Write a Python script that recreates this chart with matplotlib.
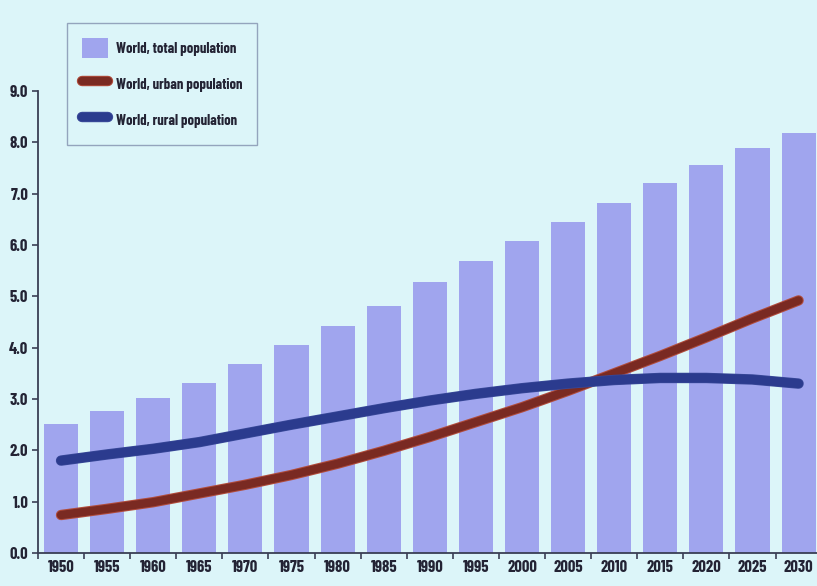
import matplotlib
matplotlib.use('Agg')
import matplotlib.pyplot as plt
import matplotlib.patheffects as pe
from matplotlib import font_manager
from matplotlib.lines import Line2D
from matplotlib.patches import Patch
import numpy as np

years = ['1950', '1955', '1960', '1965', '1970', '1975', '1980', '1985', '1990',
         '1995', '2000', '2005', '2010', '2015', '2020', '2025', '2030']
total = [2.52, 2.76, 3.01, 3.32, 3.69, 4.06, 4.43, 4.82, 5.27, 5.68, 6.08,
         6.45, 6.82, 7.20, 7.55, 7.88, 8.19]
urban = [0.74, 0.86, 0.99, 1.16, 1.33, 1.52, 1.74, 1.99, 2.26, 2.55, 2.84,
         3.16, 3.50, 3.84, 4.20, 4.57, 4.92]
rural = [1.80, 1.92, 2.03, 2.16, 2.33, 2.50, 2.66, 2.82, 2.97, 3.10, 3.21,
         3.30, 3.37, 3.41, 3.41, 3.38, 3.30]
yticks = [0.0, 1.0, 2.0, 3.0, 4.0, 5.0, 6.0, 7.0, 8.0, 9.0]
labels = ['World, total population', 'World, urban population',
          'World, rural population']

# narrow bold font if one is installed, else DejaVu
names = set(f.name for f in font_manager.fontManager.ttflist)
fam = 'DejaVu Sans'
for n in ['Barlow Condensed', 'Asap Condensed', 'Archivo Narrow']:
    if n in names:
        fam = n
        break
plt.rcParams['font.family'] = [fam, 'DejaVu Sans']
plt.rcParams['font.weight'] = 'bold'
fs = 12 if fam != 'DejaVu Sans' else 9.5

bg = '#dcf5f9'
barc = '#a0a5ee'
urbc = '#7a2a22'
rurc = '#2b3b8e'
axc = '#3a3f55'
txc = '#232334'

W, H = 817, 586
fig = plt.figure(figsize=(W/100., H/100.), dpi=100, facecolor=bg)
ax = fig.add_axes([38./W, 33./H, (W-38.)/W, 462./H])
ax.set_facecolor(bg)

x = np.arange(len(years))
ax.bar(x, total, width=0.74, color=barc, zorder=1)
urb_fx = [pe.Stroke(linewidth=7.5, foreground='#b14c3c'), pe.Normal()]
rur_fx = [pe.Stroke(linewidth=7.5, foreground='#3a4a9a'), pe.Normal()]
ax.plot(x, urban, color=urbc, lw=6, solid_capstyle='round', zorder=3,
        path_effects=urb_fx)
ax.plot(x, rural, color=rurc, lw=6.5, solid_capstyle='round', zorder=3,
        path_effects=rur_fx)

ax.set_xlim(-0.5, 16.4)
ax.set_ylim(0, 9)
for s in ['top', 'right']:
    ax.spines[s].set_visible(False)
for s in ['left', 'bottom']:
    ax.spines[s].set_color(axc)
    ax.spines[s].set_linewidth(1.3)

ax.set_yticks(yticks)
ax.set_yticklabels(['%.1f' % v for v in yticks], fontsize=fs, color=txc)
ax.tick_params(axis='y', direction='out', length=4, width=1.2, color=axc, pad=3)

ax.set_xticks(x)
ax.set_xticklabels(years, fontsize=fs, color=txc)
ax.tick_params(axis='x', length=0, pad=5)
ax.set_xticks(np.arange(-0.5, 16.5, 1), minor=True)
ax.tick_params(axis='x', which='minor', direction='out', length=4, width=1.2,
               color=axc)

handles = [Patch(facecolor=barc, edgecolor='none'),
           Line2D([], [], color=urbc, lw=6, solid_capstyle='round', path_effects=urb_fx),
           Line2D([], [], color=rurc, lw=6, solid_capstyle='round', path_effects=rur_fx)]
leg = fig.legend(handles, labels, loc='upper left',
                 bbox_to_anchor=(67./W, 1 - 23./H), fontsize=fs - 1.5,
                 frameon=True, fancybox=False, handlelength=1.8,
                 handleheight=1.8, handletextpad=0.55, labelspacing=1.05,
                 borderpad=1.0, borderaxespad=0)
leg.get_frame().set_facecolor(bg)
leg.get_frame().set_edgecolor('#8290ae')
leg.get_frame().set_linewidth(1.0)
for t in leg.get_texts():
    t.set_color(txc)

fig.savefig('out.png', dpi=100, facecolor=bg)
